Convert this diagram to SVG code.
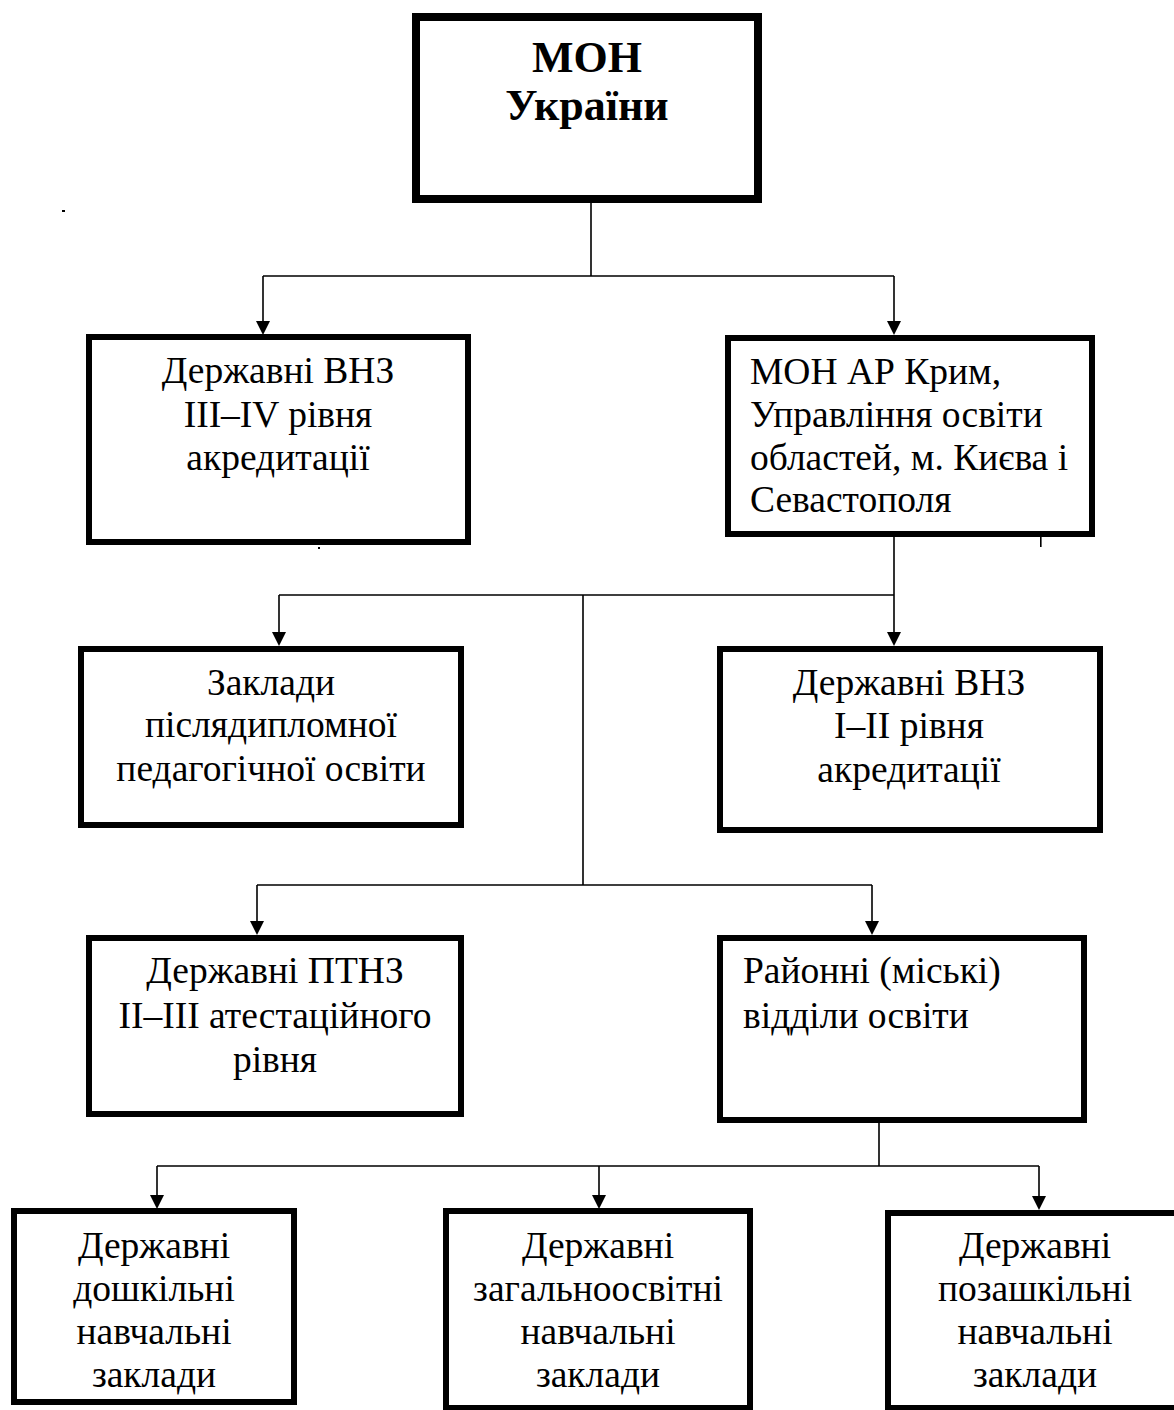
<svg xmlns="http://www.w3.org/2000/svg" width="1174" height="1410" viewBox="0 0 1174 1410">
<defs>
<style>
.box{fill:#fff;stroke:#000;stroke-width:6}
.t{font-family:"Liberation Serif","Times New Roman",serif;font-size:37.5px;fill:#000}
.c{text-anchor:middle}
.b{font-weight:bold;font-size:44px}
.ln{fill:none;stroke:#000;stroke-width:1.6}
</style>
</defs>
<rect width="1174" height="1410" fill="#fff"/>
<g id="connectors">
<path class="ln" d="M591,203 V276 M263,276 H894"/>
<path class="ln" d="M263,276 V321"/><path d="M256,321 H270 L263,335 Z"/>
<path class="ln" d="M894,276 V321"/><path d="M887,321 H901 L894,335 Z"/>
<path class="ln" d="M894,537 V632 M279,595 H894 M583,595 V885 M257,885 H872"/>
<path class="ln" d="M279,595 V632"/><path d="M272,632 H286 L279,646 Z"/>
<path d="M887,632 H901 L894,646 Z"/>
<path class="ln" d="M257,885 V921"/><path d="M250,921 H264 L257,935 Z"/>
<path class="ln" d="M872,885 V921"/><path d="M865,921 H879 L872,935 Z"/>
<path class="ln" d="M879,1123 V1166 M157,1166 H1039"/>
<path class="ln" d="M157,1166 V1195"/><path d="M150,1195 H164 L157,1209 Z"/>
<path class="ln" d="M599,1166 V1195"/><path d="M592,1195 H606 L599,1209 Z"/>
<path class="ln" d="M1039,1166 V1196"/><path d="M1032,1196 H1046 L1039,1210 Z"/>
</g>
<g id="mon-ukrainy">
<rect class="box" x="416" y="17" width="342" height="182" style="stroke-width:8"/>
<text class="t c b" x="587" y="72">МОН</text>
<text class="t c b" x="587" y="120">України</text>
</g>
<g id="vnz-3-4">
<rect class="box" x="89" y="337" width="379" height="205"/>
<text class="t c" x="278" y="383">Державні ВНЗ</text>
<text class="t c" x="278" y="427">III–IV рівня</text>
<text class="t c" x="278" y="470">акредитації</text>
</g>
<g id="mon-krym">
<rect class="box" x="728" y="338" width="364" height="196"/>
<text class="t" x="750" y="384">МОН АР Крим,</text>
<text class="t" x="750" y="427">Управління освіти</text>
<text class="t" x="750" y="470">областей, м. Києва і</text>
<text class="t" x="750" y="512">Севастополя</text>
</g>
<g id="zaklady-pislyadyp">
<rect class="box" x="81" y="649" width="380" height="176"/>
<text class="t c" x="271" y="695">Заклади</text>
<text class="t c" x="271" y="737">післядипломної</text>
<text class="t c" x="271" y="781">педагогічної освіти</text>
</g>
<g id="vnz-1-2">
<rect class="box" x="720" y="649" width="380" height="181"/>
<text class="t c" x="909" y="695">Державні ВНЗ</text>
<text class="t c" x="909" y="738">I–II рівня</text>
<text class="t c" x="909" y="782">акредитації</text>
</g>
<g id="ptnz">
<rect class="box" x="89" y="938" width="372" height="176"/>
<text class="t c" x="275" y="983">Державні ПТНЗ</text>
<text class="t c" x="275" y="1028">II–III атестаційного</text>
<text class="t c" x="275" y="1072">рівня</text>
</g>
<g id="raionni">
<rect class="box" x="720" y="938" width="364" height="182"/>
<text class="t" x="743" y="983">Районні (міські)</text>
<text class="t" x="743" y="1028">відділи освіти</text>
</g>
<g id="doshkilni">
<rect class="box" x="14" y="1211" width="280" height="191"/>
<text class="t c" x="154" y="1258">Державні</text>
<text class="t c" x="154" y="1301">дошкільні</text>
<text class="t c" x="154" y="1344">навчальні</text>
<text class="t c" x="154" y="1387">заклади</text>
</g>
<g id="zahalnoosvitni">
<rect class="box" x="446" y="1211" width="304" height="197"/>
<text class="t c" x="598" y="1258">Державні</text>
<text class="t c" x="598" y="1301">загальноосвітні</text>
<text class="t c" x="598" y="1344">навчальні</text>
<text class="t c" x="598" y="1387">заклади</text>
</g>
<g id="pozashkilni">
<rect class="box" x="888" y="1213" width="300" height="195"/>
<text class="t c" x="1035" y="1258">Державні</text>
<text class="t c" x="1035" y="1301">позашкільні</text>
<text class="t c" x="1035" y="1344">навчальні</text>
<text class="t c" x="1035" y="1387">заклади</text>
</g>
<g id="marks">
<rect x="62" y="210" width="3" height="2" fill="#000"/>
<rect x="318" y="547" width="2" height="2" fill="#000"/>
<rect x="1040" y="537" width="1.6" height="10" fill="#000"/>
</g>
</svg>
